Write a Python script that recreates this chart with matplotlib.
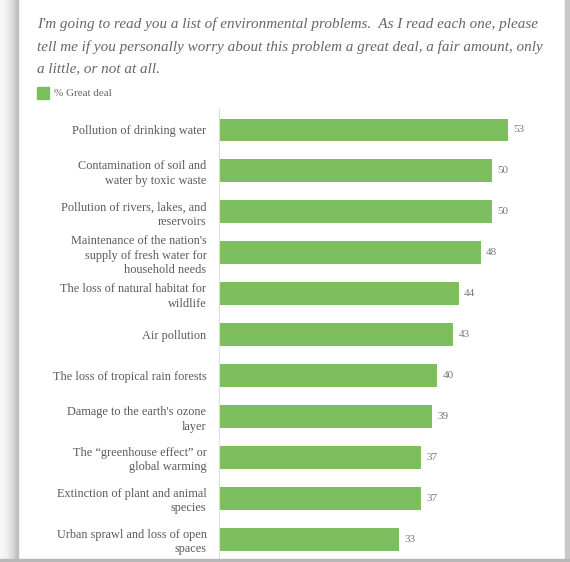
import matplotlib.pyplot as plt
from matplotlib.patches import Rectangle

categories = [
    "Pollution of drinking water",
    "Contamination of soil and\nwater by toxic waste",
    "Pollution of rivers, lakes, and\nreservoirs",
    "Maintenance of the nation's\nsupply of fresh water for\nhousehold needs",
    "The loss of natural habitat for\nwildlife",
    "Air pollution",
    "The loss of tropical rain forests",
    "Damage to the earth's ozone\nlayer",
    "The \u201cgreenhouse effect\u201d or\nglobal warming",
    "Extinction of plant and animal\nspecies",
    "Urban sprawl and loss of open\nspaces",
]
great_deal = [53, 50, 50, 48, 44, 43, 40, 39, 37, 37, 33]

title = ("I'm going to read you a list of environmental problems.  As I read each one, please\n"
         "tell me if you personally worry about this problem a great deal, a fair amount, only\n"
         "a little, or not at all.")

green = "#7dbf5e"
serif = ["Liberation Serif", "DejaVu Serif"]

fig = plt.figure(figsize=(5.7, 5.62), dpi=100)
fig.patch.set_facecolor("white")

# card shadow around the screenshot
for i in range(18):
    g = 0.97 - 0.25 * (i / 18) ** 2
    fig.patches.append(Rectangle((i / 570, 0), 1 / 570, 1, transform=fig.transFigure,
                                 color=(g, g, g), zorder=0))
fig.patches.append(Rectangle((565 / 570, 0), 5 / 570, 1, transform=fig.transFigure,
                             color="#c8c8c8", zorder=0))
fig.patches.append(Rectangle((0, 0), 1, 3 / 562, transform=fig.transFigure,
                             color="#b8b8b8", zorder=0))

fig.text(37 / 570, 1 - 17 / 562, title, ha="left", va="top", fontsize=10.9,
         style="italic", family=serif, color="#666666", linespacing=1.87)

# legend
fig.patches.append(Rectangle((37 / 570, 1 - 99 / 562), 12 / 570, 12 / 562,
                             transform=fig.transFigure, color=green))
fig.text(54 / 570, 1 - 93 / 562, "% Great deal", ha="left", va="center",
         fontsize=8, family=serif, color="#666666")

ax = fig.add_axes([219 / 570, 1 - 559.5 / 562, 327 / 570, 450 / 562])
y = list(range(len(categories)))
ax.barh(y, great_deal, height=0.56, color=green)
for yi, v in zip(y, great_deal):
    ax.text(v + 1.0, yi, str(v), va="center", ha="left", fontsize=8,
            family=serif, color="#777777")

ax.set_xlim(0, 60)
ax.set_ylim(len(categories) - 0.5, -0.5)
ax.set_yticks(y)
ax.set_yticklabels(categories, family=serif, fontsize=8.8, color="#5a5a5a",
                   linespacing=1.3)
ax.tick_params(axis="y", length=0, pad=9)
ax.set_xticks([])
for s in ["top", "right", "bottom"]:
    ax.spines[s].set_visible(False)
ax.spines["left"].set_color("#dddddd")
ax.spines["left"].set_linewidth(0.8)

fig.savefig("out.png", dpi=100)
